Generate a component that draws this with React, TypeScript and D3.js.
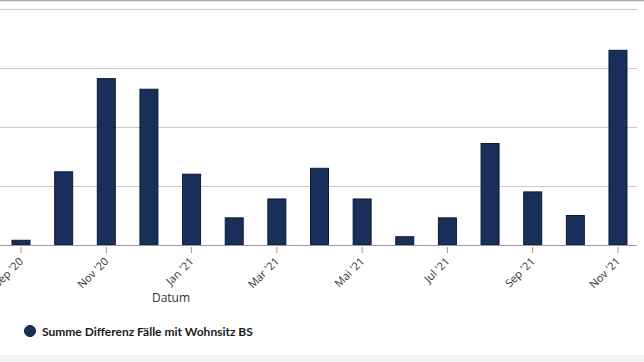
import { useMemo } from 'react';
import * as d3 from 'd3';

// months shown on the x axis (monthly bars)
const months = [
    "Sep '20", "Okt '20", "Nov '20", "Dez '20", "Jan '21", "Feb '21", "Mar '21", "Apr '21",
    "Mai '21", "Jun '21", "Jul '21", "Aug '21", "Sep '21", "Okt '21", "Nov '21"
];
// Summe Differenz Fälle mit Wohnsitz BS
const values = [4, 62, 141, 132, 60, 23, 39, 65, 39, 7, 23, 86, 45, 25, 165];
// only every second month is labelled
const tickLabels = ["Sep '20", "Nov '20", "Jan '21", "Mar '21", "Mai '21", "Jul '21", "Sep '21", "Nov '21"];
const gridTicks = [0, 50, 100, 150, 200];

const seriesName = 'Summe Differenz Fälle mit Wohnsitz BS';
const axisTitle = 'Datum';

const width = 644;
const height = 362;
const baseY = 245;
const topY = 9;
const plotRight = 637;
const barColor = '#183059';
const font = '"Open Sans", "DejaVu Sans", sans-serif';

export default function App() {
    const { x, y } = useMemo(() => {
        const x = d3.scaleBand<string>()
            .domain(months)
            .range([-0.3, 639.3])
            .paddingInner(0.578)
            .paddingOuter(0.289);
        const y = d3.scaleLinear()
            .domain([0, 200])
            .range([baseY, topY]);
        return { x, y };
    }, []);

    const bw = x.bandwidth();

    return (
        <div>
            <style>{'body{margin:0}'}</style>
            <svg width={width} height={height} style={{ display: 'block', fontFamily: font }}>
                <rect x={0} y={0} width={width} height={height} fill="#ffffff" />
                <rect x={0} y={355} width={width} height={height - 355} fill="#f2f2f2" />
                <line x1={0} x2={width} y1={0.5} y2={0.5} stroke="#a8a8a8" strokeWidth={1.5} />

                {/* grid lines */}
                <g>
                    {gridTicks.filter((t) => t > 0).map((t) => (
                        <line key={t} x1={0} x2={plotRight} y1={Math.round(y(t)) + 0.5} y2={Math.round(y(t)) + 0.5} stroke="#c8c8c8" strokeWidth={1.2} />
                    ))}
                </g>

                {/* bars */}
                <g>
                    {months.map((m, i) => (
                        <rect
                            key={m}
                            x={x(m)}
                            y={y(values[i])}
                            width={bw}
                            height={baseY - y(values[i])}
                            fill={barColor}
                            stroke="#0c1a33"
                            strokeWidth={1}
                        />
                    ))}
                </g>

                {/* baseline and ticks */}
                <line x1={0} x2={plotRight} y1={baseY + 0.5} y2={baseY + 0.5} stroke="#9a9a9a" strokeWidth={1.2} />
                <g>
                    {tickLabels.map((t) => {
                        const cx = (x(t) ?? 0) + bw / 2;
                        return (
                            <g key={t}>
                                <line x1={cx} x2={cx} y1={baseY + 2} y2={baseY + 8} stroke="#9a9a9a" strokeWidth={1} />
                                <text
                                    transform={`translate(${cx + 3}, ${baseY + 17}) rotate(-45)`}
                                    textAnchor="end"
                                    fontSize={11}
                                    fill="#333333"
                                >
                                    {t}
                                </text>
                            </g>
                        );
                    })}
                </g>

                <text x={171} y={302} textAnchor="middle" fontSize={12} fill="#333333">{axisTitle}</text>

                {/* legend */}
                <circle cx={30} cy={331} r={5.5} fill={barColor} stroke="#0c1a33" strokeWidth={1} />
                <text x={42} y={335.5} fontFamily="Lato, sans-serif" fontSize={12} fontWeight={700} fill="#1a1a1a">{seriesName}</text>
            </svg>
        </div>
    );
}
